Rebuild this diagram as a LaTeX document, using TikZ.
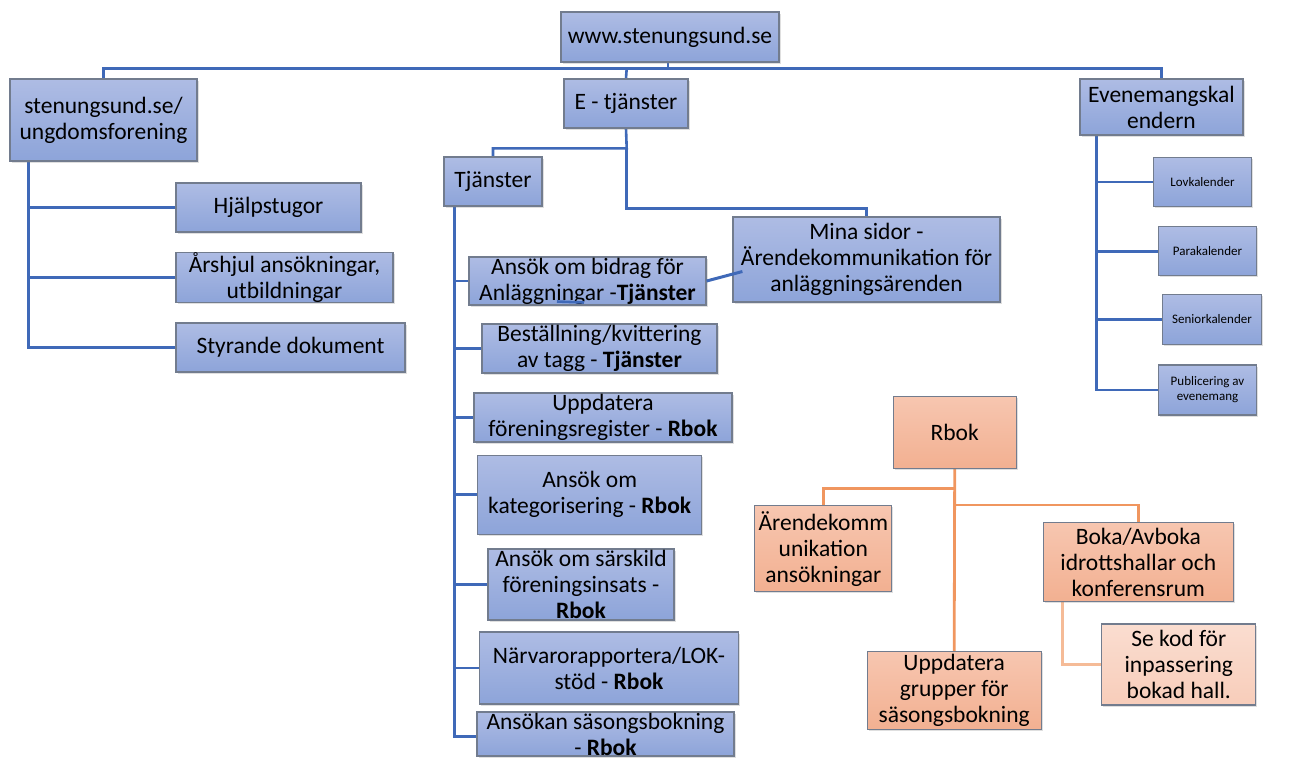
\documentclass[tikz,border=0pt]{standalone}
\usepackage{fontspec}
\setmainfont{Carlito}
\usetikzlibrary{positioning, calc, shadows, backgrounds}

\definecolor{blueline}{HTML}{3F69B8}
\definecolor{bluetop}{HTML}{AEBCE4}
\definecolor{bluebot}{HTML}{8DA4D9}
\definecolor{orangeline}{HTML}{F0965F}
\definecolor{orangetop}{HTML}{F7C6B0}
\definecolor{orangebot}{HTML}{F2B091}
\definecolor{lighttop}{HTML}{FADDD0}
\definecolor{lightbot}{HTML}{F8CDBA}
\definecolor{edge}{HTML}{727C8E}

\begin{document}
\begin{tikzpicture}[
    x=1pt, y=-1pt,
    every node/.style={font={\fontsize{23.5}{26}\selectfont}, align=center, inner sep=0pt},
    box/.style={draw=edge, line width=1.2pt, drop shadow={opacity=0.25, shadow xshift=1.5pt, shadow yshift=-1.5pt}},
    bluebox/.style={box, top color=bluetop, bottom color=bluebot},
    orangebox/.style={box, top color=orangetop, bottom color=orangebot},
    lightbox/.style={box, top color=lighttop, bottom color=lightbot},
    smalltext/.style={font={\fontsize{13}{15}\selectfont}},
    link/.style={draw=blueline, line width=2.6pt},
    rlink/.style={draw=orangeline, line width=2.8pt},
    lightlink/.style={draw=orangeline!65, line width=2.8pt},
  ]
  \useasboundingbox (0,0) rectangle (1293,758);

  % top level
  \node[bluebox, minimum width=218, minimum height=50] (www) at (670,37) {www.stenungsund.se};
  \node[bluebox, minimum width=187, minimum height=82] (ungdom) at (103.5,120) {stenungsund.se/\\ungdomsforening};
  \node[bluebox, minimum width=124, minimum height=49] (etj) at (626,103.5) {E - tjänster};
  \node[bluebox, minimum width=163, minimum height=56] (even) at (1161.5,107) {Evenemangskal\\endern};

  % left branch
  \node[bluebox, minimum width=185, minimum height=49] (hjalp) at (268.5,207.5) {Hjälpstugor};
  \node[bluebox, minimum width=217, minimum height=49] (arshjul) at (284.5,277.5) {Årshjul ansökningar,\\utbildningar};
  \node[bluebox, minimum width=229, minimum height=49] (styr) at (290.5,347.5) {Styrande dokument};

  % e-tjänster
  \node[bluebox, minimum width=98, minimum height=49] (tjan) at (493,181.5) {Tjänster};
  \node[bluebox, minimum width=267, minimum height=85] (mina) at (866.5,259.5) {Mina sidor -\\Ärendekommunikation för\\anläggningsärenden};

  \node[bluebox, minimum width=237, minimum height=48] (bidrag) at (587.5,281) {Ansök om bidrag för\\Anläggningar -\textbf{Tjänster}};
  \node[bluebox, minimum width=235, minimum height=49] (tagg) at (599.5,348.5) {Beställning/kvittering\\av tagg - \textbf{Tjänster}};
  \node[bluebox, minimum width=258, minimum height=49] (register) at (603,417.5) {Uppdatera\\föreningsregister - \textbf{Rbok}};
  \node[bluebox, minimum width=224, minimum height=79] (kateg) at (589.7,494.7) {Ansök om\\kategorisering - \textbf{Rbok}};
  \node[bluebox, minimum width=186, minimum height=71] (insats) at (581,584.5) {Ansök om särskild\\föreningsinsats -\\\textbf{Rbok}};
  \node[bluebox, minimum width=259, minimum height=72] (narvaro) at (609,668) {Närvarorapportera/LOK-\\stöd - \textbf{Rbok}};
  \node[bluebox, minimum width=257, minimum height=44] (sasong) at (605.5,734) {Ansökan säsongsbokning\\- \textbf{Rbok}};

  % kalender
  \node[bluebox, smalltext, minimum width=98, minimum height=49] (lov) at (1202.5,182) {Lovkalender};
  \node[bluebox, smalltext, minimum width=98, minimum height=49] (para) at (1207.5,251.3) {Parakalender};
  \node[bluebox, smalltext, minimum width=99, minimum height=50] (senior) at (1212,319.3) {Seniorkalender};
  \node[bluebox, smalltext, minimum width=98, minimum height=50] (publ) at (1207.5,390) {Publicering av\\evenemang};

  % rbok
  \node[orangebox, minimum width=123, minimum height=72] (rbok) at (954.7,432.5) {Rbok};
  \node[orangebox, minimum width=137, minimum height=86] (arende) at (823.3,548.8) {Ärendekomm\\unikation\\ansökningar};
  \node[orangebox, minimum width=190, minimum height=79] (boka) at (1138.3,562) {Boka/Avboka\\idrottshallar och\\konferensrum};
  \node[orangebox, minimum width=174, minimum height=78] (grupper) at (954.2,690.8) {Uppdatera\\grupper för\\säsongsbokning};
  \node[lightbox, minimum width=154, minimum height=81] (kod) at (1178.8,664.5) {Se kod för\\inpassering\\bokad hall.};

  % connectors
  \begin{scope}[on background layer]
  \draw[link] (668,62) -- (668,68.5);
  \draw[link] (ungdom.north) |- (668,68.5) -| (even.north);
  \draw[link] (etj.north) -- (626.7,68.5);

  \draw[link] (28.3,161) |- (hjalp.west);
  \draw[link] (28.3,200) |- (arshjul.west);
  \draw[link] (28.3,270) |- (styr.west);

  \draw[link] (etj.south) -- (626.7,148.3) -| (tjan.north);
  \draw[link] (626.7,148.3) |- (866.5,208.3) -- (mina.north);

  \draw[link] (454.5,206) |- (bidrag.west);
  \draw[link] (454.5,270) |- (tagg.west);
  \draw[link] (454.5,340) |- (register.west);
  \draw[link] (454.5,410) |- (kateg.west);
  \draw[link] (454.5,490) |- (insats.west);
  \draw[link] (454.5,580) |- (narvaro.west);
  \draw[link] (454.5,660) |- (sasong.west |- 0,736.7);

  \draw[link] (1096.7,135) |- (lov.west);
  \draw[link] (1096.7,180) |- (para.west);
  \draw[link] (1096.7,250) |- (senior.west);
  \draw[link] (1096.7,310) |- (publ.west);

  \draw[rlink] (rbok.south) -- (grupper.north);
  \draw[rlink] (954.7,488.7) -| (arende.north);
  \draw[rlink] (954.7,505) -| (boka.north);
  \draw[lightlink] (1062.7,601) |- (kod.west);
  \end{scope}

  \coordinate (minaend) at ($(mina.west)+(10,12)$);
  \draw[link, line width=3pt] (bidrag.east) -- (minaend);
  \coordinate (mark1) at (557,301.5);
  \coordinate (mark2) at (584,302.5);
  \draw[link] (mark1) -- (mark2);
\end{tikzpicture}
\end{document}
